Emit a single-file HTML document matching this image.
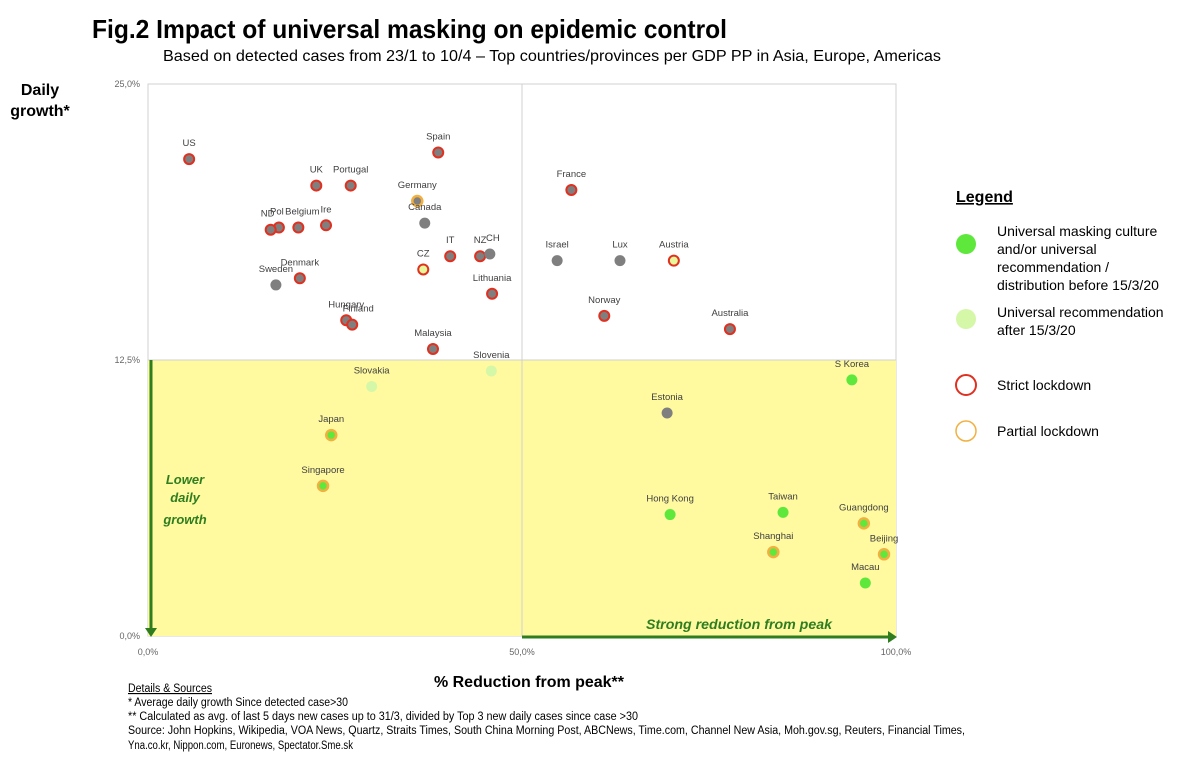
<!DOCTYPE html>
<html><head><meta charset="utf-8"><style>
body{margin:0;background:#fff;width:1200px;height:759px;overflow:hidden;font-family:"Liberation Sans",sans-serif;}
svg text{font-family:"Liberation Sans",sans-serif;}
</style></head><body>
<svg id="chart" width="1200" height="759" viewBox="0 0 1200 759" xmlns="http://www.w3.org/2000/svg">
<text x="92" y="38" font-size="26" font-weight="bold" fill="#000" textLength="635" lengthAdjust="spacingAndGlyphs">Fig.2   Impact of universal masking on epidemic control</text>
<text x="163" y="61" font-size="16" fill="#000" textLength="778" lengthAdjust="spacingAndGlyphs">Based on detected cases from 23/1 to 10/4 – Top countries/provinces per GDP PP in Asia, Europe, Americas</text>
<text x="40" y="95" font-size="16" font-weight="bold" text-anchor="middle">Daily</text>
<text x="40" y="116" font-size="16" font-weight="bold" text-anchor="middle">growth*</text>
<g id="plot"></g>
<text x="529" y="687" font-size="16" font-weight="bold" text-anchor="middle" textLength="190" lengthAdjust="spacingAndGlyphs">% Reduction from peak**</text>
<g font-size="14">
<text x="956" y="202" font-size="16" font-weight="bold" text-decoration="underline">Legend</text>
<circle cx="966" cy="244" r="10" fill="#5ee83c"/>
<text x="997" y="236">Universal masking culture</text>
<text x="997" y="254">and/or universal</text>
<text x="997" y="272">recommendation /</text>
<text x="997" y="290">distribution before 15/3/20</text>
<circle cx="966" cy="319" r="10" fill="#d5f7a8"/>
<text x="997" y="317">Universal recommendation</text>
<text x="997" y="335">after 15/3/20</text>
<circle cx="966" cy="385" r="10" fill="none" stroke="#e03020" stroke-width="2"/>
<text x="997" y="390">Strict lockdown</text>
<circle cx="966" cy="431" r="10" fill="none" stroke="#f2b040" stroke-width="1.5"/>
<text x="997" y="436">Partial lockdown</text>
</g>
<g font-size="11.5" fill="#000">
<text x="128" y="692" text-decoration="underline" textLength="84" lengthAdjust="spacingAndGlyphs">Details &amp; Sources</text>
<text x="128" y="706" textLength="220" lengthAdjust="spacingAndGlyphs">*   Average daily growth Since detected case&gt;30</text>
<text x="128" y="720" textLength="510" lengthAdjust="spacingAndGlyphs">** Calculated as avg. of last 5 days new cases up to 31/3,  divided by Top 3 new daily cases since case &gt;30</text>
<text x="128" y="734" textLength="837" lengthAdjust="spacingAndGlyphs">Source: John Hopkins, Wikipedia, VOA News, Quartz, Straits Times, South China Morning Post, ABCNews, Time.com, Channel New Asia, Moh.gov.sg, Reuters, Financial Times,</text>
<text x="128" y="749" textLength="225" lengthAdjust="spacingAndGlyphs">Yna.co.kr, Nippon.com, Euronews, Spectator.Sme.sk</text>
</g>
</svg>
<script>
const names=["US","Spain","UK","Portugal","Germany","Canada","Pol","ND","Belgium","Ire","IT","NZ","CH","CZ","Sweden","Denmark","Lithuania","Hungary","Finland","Malaysia","Slovenia","Slovakia","Japan","Singapore","France","Israel","Lux","Austria","Norway","Australia","S Korea","Estonia","Hong Kong","Taiwan","Guangdong","Shanghai","Beijing","Macau"];
const reduction=[5.5,38.8,22.5,27.1,36.0,37.0,17.5,16.4,20.1,23.8,40.4,44.4,45.7,36.8,17.1,20.3,46.0,26.5,27.3,38.1,45.9,29.9,24.5,23.4,56.6,54.7,63.1,70.3,61.0,77.8,94.1,69.4,69.8,84.9,95.7,83.6,98.4,95.9];
const growth=[21.6,21.9,20.4,20.4,19.7,18.7,18.5,18.4,18.5,18.6,17.2,17.2,17.3,16.6,15.9,16.2,15.5,14.3,14.1,13.0,12.0,11.3,9.1,6.8,20.2,17.0,17.0,17.0,14.5,13.9,11.6,10.1,5.5,5.6,5.1,3.8,3.7,2.4];
const maskType=["g","g","g","g","g","g","g","g","g","g","g","g","g","y","g","g","g","g","g","g","r","r","m","m","g","g","g","y","g","g","m","g","m","m","m","m","m","m"];
const lockdown=["s","s","s","s","p","n","s","s","s","s","s","s","n","s","n","s","s","s","s","s","n","n","p","p","s","n","n","s","s","s","n","n","n","n","p","p","p","n"];
const labelDx={"ND":-3,"Pol":-2,"Belgium":4,"Denmark":0,"Sweden":0,"Hungary":0,"Finland":6,"NZ":0,"CH":3};
const xTicks=[0,50,100], xTickLabels=["0,0%","50,0%","100,0%"];
const yTicks=[0,12.5,25], yTickLabels=["0,0%","12,5%","25,0%"];
const X0=148,X1=896,Y0=636,Y1=84;
const xs=v=>X0+(v/100)*(X1-X0), ys=v=>Y0-(v/25)*(Y0-Y1);
const NS="http://www.w3.org/2000/svg", plot=document.getElementById('plot');
function mk(t,a,p){const e=document.createElementNS(NS,t);for(const k in a)e.setAttribute(k,a[k]);(p||plot).appendChild(e);return e;}
let e;
e=mk('rect',{x:X0,y:Y1,width:X1-X0,height:Y0-Y1,fill:"#fff",stroke:"#d0d0d0"});


e=mk('rect',{x:X0,y:ys(12.5),width:X1-X0,height:Y0-ys(12.5),fill:"#fffaa0"});


e=mk('line',{x1:xs(50),y1:Y1,x2:xs(50),y2:Y0,stroke:"#d0d0d0"});


e=mk('line',{x1:X0,y1:ys(12.5),x2:X1,y2:ys(12.5),stroke:"#d0d0d0"});


xTicks.forEach((t,i)=>{const tx=mk('text',{x:xs(t),y:655,"font-size":9,fill:"#666","text-anchor":"middle"});tx.textContent=xTickLabels[i];

});
yTicks.forEach((t,i)=>{const tx=mk('text',{x:X0-8,y:ys(t)+3,"font-size":9,fill:"#666","text-anchor":"end"});tx.textContent=yTickLabels[i];

});
const G="#2f7d1f";
e=mk('line',{x1:151,y1:ys(12.5),x2:151,y2:Y0-6,stroke:G,"stroke-width":3});


e=mk('polygon',{points:`145,${Y0-8} 157,${Y0-8} 151,${Y0+1}`,fill:G});


e=mk('line',{x1:xs(50),y1:637,x2:X1-6,y2:637,stroke:G,"stroke-width":3});


e=mk('polygon',{points:`${X1-8},631 ${X1-8},643 ${X1+1},637`,fill:G});


[["Lower",484],["daily",502],["growth",524]].forEach(([t,y])=>{const tx=mk('text',{x:185,y:y,"font-size":13,"font-weight":"bold","font-style":"italic",fill:G,"text-anchor":"middle"});tx.textContent=t;

});
e=mk('text',{x:739,y:629,"font-size":14,"font-weight":"bold","font-style":"italic",fill:G,"text-anchor":"middle",textLength:186,lengthAdjust:"spacingAndGlyphs"});e.textContent="Strong reduction from peak";


const fills={g:"#7f7f7f",m:"#5ee83c",r:"#d5f7a8",y:"#e8f79a"};
const strokes={s:"#e03020",p:"#f2b040",n:"none"};
names.forEach((n,i)=>{
 const cx=xs(reduction[i]),cy=ys(growth[i]);
 const c=mk('circle',{cx:cx,cy:cy,r:lockdown[i]=="n"?5.5:5,fill:fills[maskType[i]],stroke:strokes[lockdown[i]],"stroke-width":lockdown[i]=="s"?2:2.5});
 
 
 const t=mk('text',{x:cx+(labelDx[n]||0),y:cy-13,"font-size":9.5,fill:"#404040","text-anchor":"middle"});t.textContent=n;
 
 
});
</script>
</body></html>
